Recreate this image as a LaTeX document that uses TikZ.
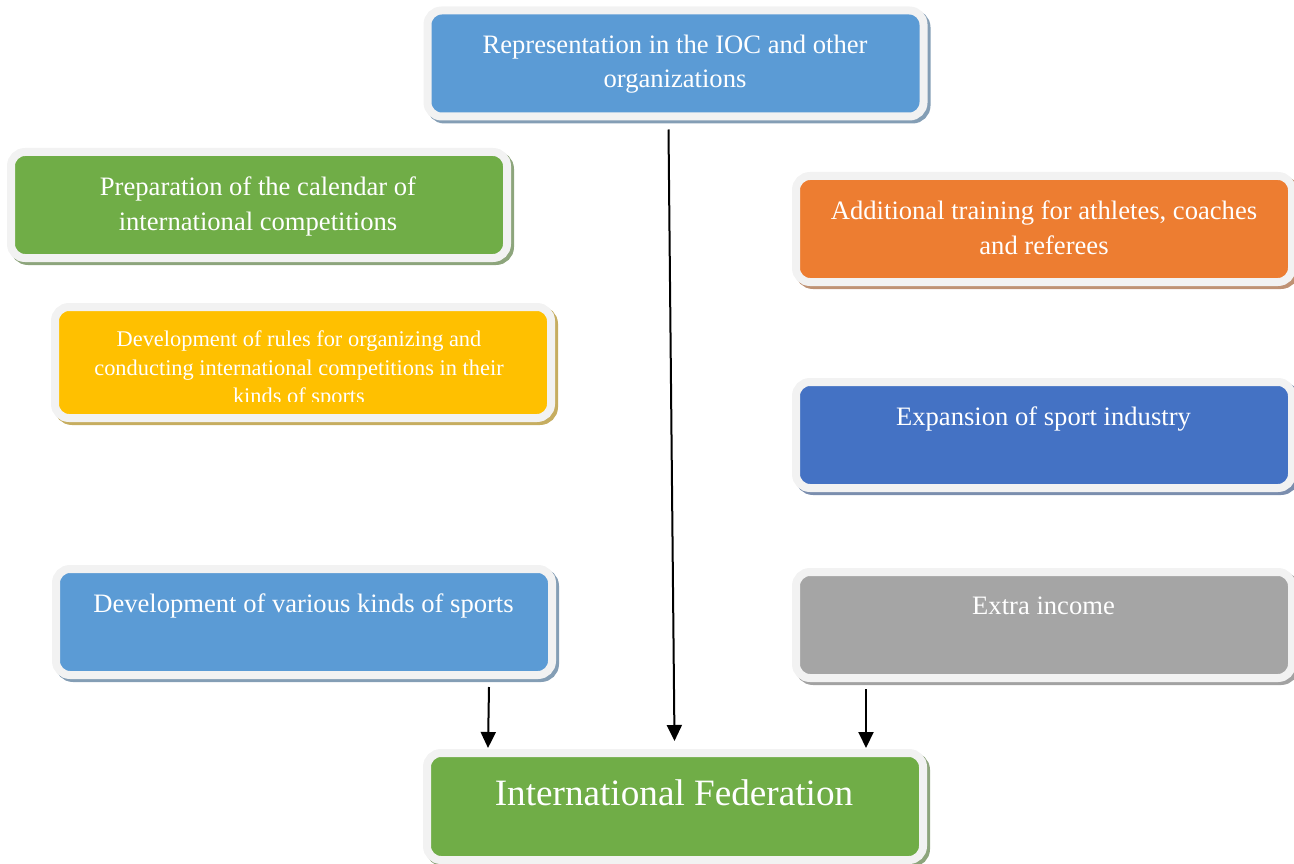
\documentclass[tikz,border=0pt]{standalone}
\usepackage{fontspec}
\setmainfont{Liberation Serif}
\usetikzlibrary{arrows.meta}
\definecolor{framegray}{HTML}{F2F2F2}
\definecolor{shgray}{HTML}{A0A0A0}
\definecolor{lblue}{HTML}{5B9BD5}
\definecolor{dblue}{HTML}{4472C4}
\definecolor{lgreen}{HTML}{70AD47}
\definecolor{lorange}{HTML}{ED7D31}
\definecolor{lyellow}{HTML}{FFC000}
\definecolor{lgray}{HTML}{A5A5A5}
\tikzset{
  box/.style={rectangle, rounded corners=14pt, minimum width=496pt, minimum height=106pt,
    inner sep=0pt, outer sep=0pt, fill=#1, draw=framegray, line width=8pt,
    preaction={draw=#1!40!shgray, fill=#1!40!shgray, line width=8pt,
      transform canvas={shift={(3pt,-3pt)}}}},
  boxtext/.style={text=white, align=center, anchor=north, inner sep=0pt,
    font=\fontsize{26.6}{34.5}\selectfont},
  arrow/.style={line width=2pt, -{Triangle[width=15pt,length=16pt]}}
}
\begin{document}
\begin{tikzpicture}[x=1pt,y=-1pt]
    \useasboundingbox (0,0) rectangle (1294,864);
    % boxes
    \node[box=lblue] (rep) at (675.5,63.5) {};
    \node[box=lgreen] (prep) at (259,205) {};
    \node[box=lyellow, minimum height=111pt] (rules) at (303,362.5) {};
    \node[box=lorange] (train) at (1044,229) {};
    \node[box=dblue] (expan) at (1044,435) {};
    \node[box=lblue] (sports) at (304,622) {};
    \node[box=lgray] (income) at (1044,625) {};
    \node[box=lgreen, minimum height=107pt] (fed) at (675,806.5) {};
    % texts
    \node[boxtext] (reptext) at (675,34.8) {Representation in the IOC and other\\organizations};
    \node[boxtext] (preptext) at (258,176.8) {Preparation of the calendar of\\international competitions};
    \begin{scope}
        \clip (59,311) rectangle (547,401);
        \node[boxtext, font=\fontsize{22.4}{28.5}\selectfont] (rulestext) at (299,330.7)
            {Development of rules for organizing and\\conducting international competitions in their\\kinds of sports};
    \end{scope}
    \node[boxtext] (traintext) at (1044,200.6) {Additional training for athletes, coaches\\and referees};
    \node[boxtext] (expantext) at (1043.5,406.8) {Expansion of sport industry};
    \node[boxtext] (sportstext) at (303.5,593.8) {Development of various kinds of sports};
    \node[boxtext] (incometext) at (1043.5,596.8) {Extra income};
    \node[boxtext, font=\fontsize{37.2}{44}\selectfont] (fedtext) at (674,779.6) {International Federation};
    % arrows
    \draw[arrow] ([xshift=-7pt,yshift=-13pt]rep.south) -- ([xshift=-0.5pt,yshift=12pt]fed.north);
    \draw[arrow] ([xshift=-63pt,yshift=-12pt]sports.south east) -- ([xshift=61pt,yshift=5pt]fed.north west);
    \draw[arrow] ([xshift=70pt,yshift=-11pt]income.south west) -- ([xshift=-57pt,yshift=5pt]fed.north east);
\end{tikzpicture}
\end{document}
